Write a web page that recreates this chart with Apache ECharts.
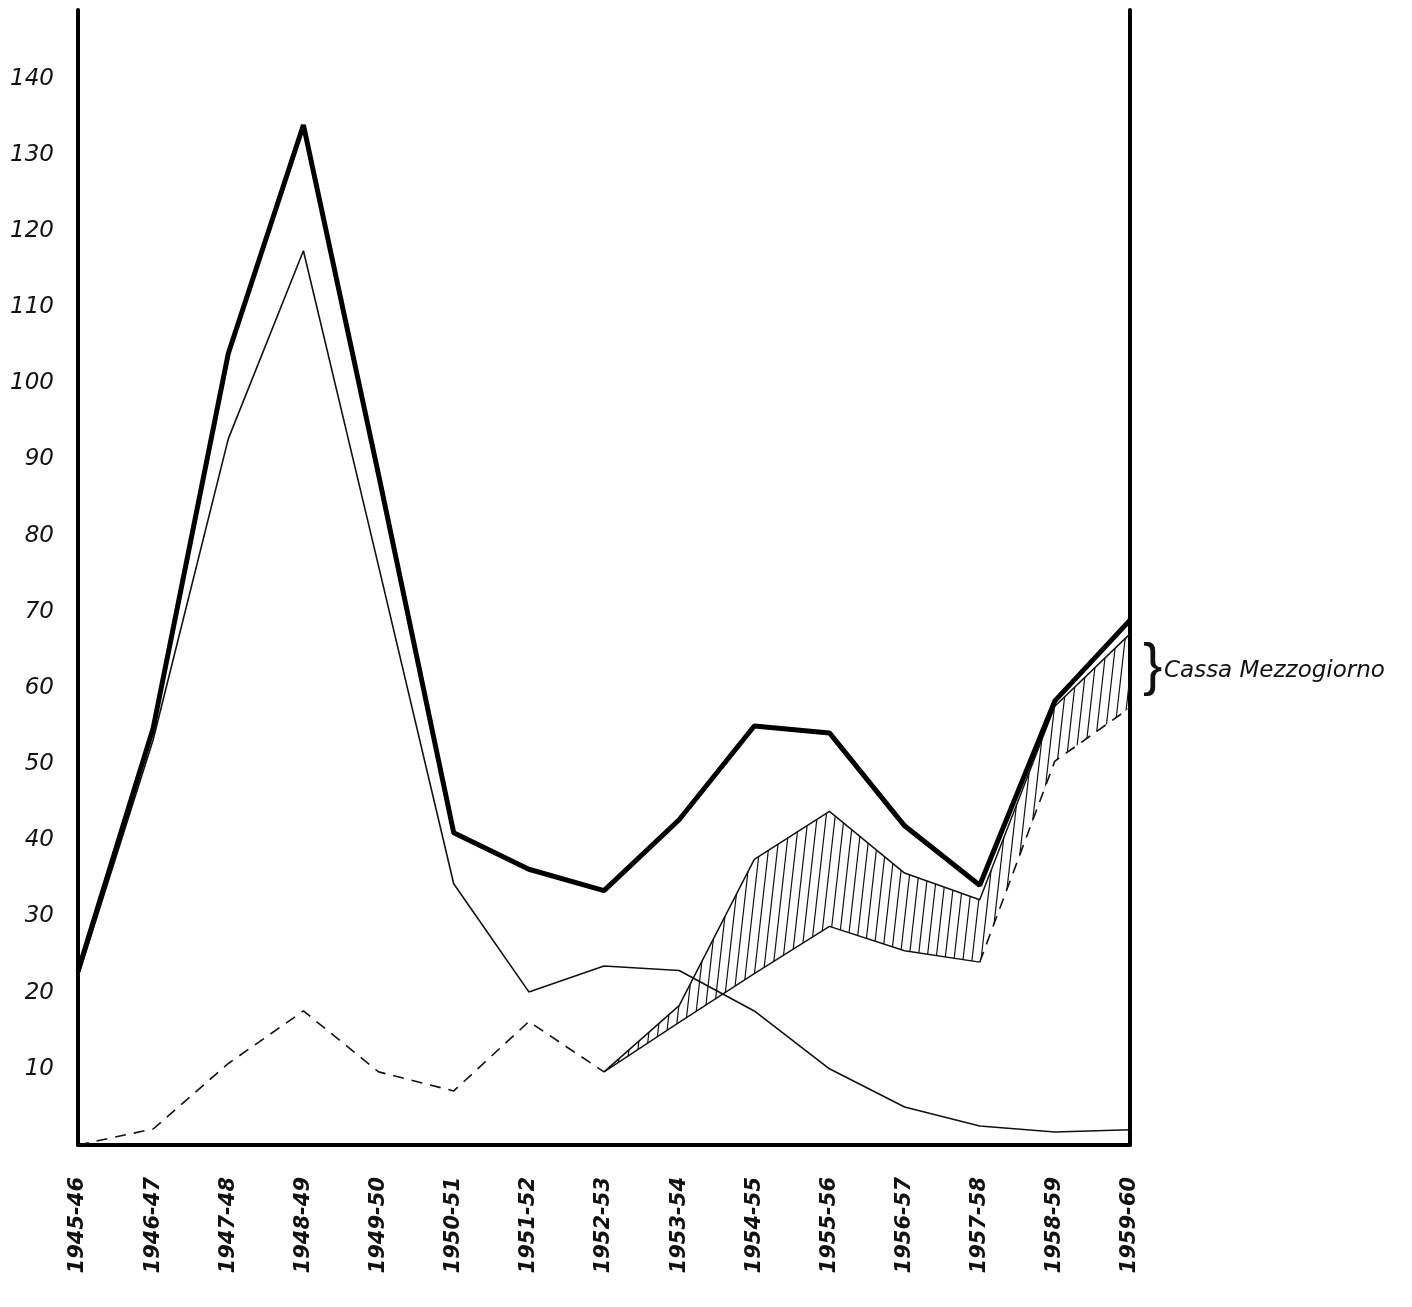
<!DOCTYPE html>
<html>
<head>
<meta charset="utf-8">
<script src="https://cdn.jsdelivr.net/npm/echarts@6/dist/echarts.min.js"></script>
<style>
html,body{margin:0;padding:0;background:#fff;}
#chart{width:1412px;height:1307px;}
</style>
</head>
<body>
<div id="chart"></div>
<script>
// ---- data ----
const categories = ['1945-46','1946-47','1947-48','1948-49','1949-50','1950-51','1951-52','1952-53','1953-54','1954-55','1955-56','1956-57','1957-58','1958-59','1959-60'];
const totalLine   = [22.8, 54.7, 103.9, 133.9, 88, 41, 36.2, 33.4, 42.7, 55, 54.1, 41.9, 34.1, 58.3, 68.9];
const thinLine    = [22.1, 53.2, 92.7, 117.4, 76, 34.3, 20.1, 23.5, 22.9, 17.6, 10, 5, 2.5, 1.7, 2];
const dashedLine  = [0, 2.1, 10.7, 17.6, 9.6, 7.1, 16.2, 9.6, 16.1, 22.5, 28.7, 25.5, 24, 50.4, 57.4];
const withCassa   = [null, null, null, null, null, null, null, 9.6, 18.3, 37.5, 43.8, 35.7, 32.2, 57.6, 67.1];
const yTickLabels = [10,20,30,40,50,60,70,80,90,100,110,120,130,140];
const annotation  = 'Cassa Mezzogiorno';

// hatch pattern (steep lines, tile wraps seamlessly)
const PW = 9, PH = 80;
const pc = document.createElement('canvas');
pc.width = PW; pc.height = PH;
const pctx = pc.getContext('2d');
pctx.strokeStyle = '#111';
pctx.lineWidth = 1.2;
[-PW, 0, PW].forEach(dx => {
  pctx.beginPath();
  pctx.moveTo(dx, PH);
  pctx.lineTo(dx + PW, 0);
  pctx.stroke();
});

const baseData = withCassa.map((v, i) => v == null ? '-' : dashedLine[i]);
const cassaData = withCassa.map((v, i) => v == null ? '-' : +(v - dashedLine[i]).toFixed(2));
// lower edge of hatch drawn solid between 1952-53 and 1957-58, dashed elsewhere
const solidFrom = 7, solidTo = 12;
const dashedPart = dashedLine.map((v, i) => (i <= solidFrom || i >= solidTo) ? v : '-');
const solidPart  = dashedLine.map((v, i) => (i >= solidFrom && i <= solidTo) ? v : '-');
const last = categories.length - 1;
const midCassa = (withCassa[last] + dashedLine[last]) / 2;

const chart = echarts.init(document.getElementById('chart'), null, {renderer: 'canvas'});
const font = 'DejaVu Sans';
chart.setOption({
  backgroundColor: '#fff',
  animation: false,
  grid: {left: 78, right: 282, top: 10, bottom: 162, containLabel: false},
  xAxis: {
    type: 'category',
    data: categories,
    boundaryGap: false,
    axisLine: {show: true, lineStyle: {color: '#000', width: 4}},
    axisTick: {show: false},
    splitLine: {show: false},
    axisLabel: {
      interval: 0, rotate: 90, margin: 32,
      fontFamily: font, fontStyle: 'italic', fontWeight: 'bold',
      fontSize: 21, color: '#111'
    }
  },
  yAxis: [{
    type: 'value', min: 0, max: 149, interval: 10,
    axisLine: {show: true, lineStyle: {color: '#000', width: 4}},
    axisTick: {show: false},
    splitLine: {show: false},
    axisLabel: {
      margin: 24, fontFamily: font, fontStyle: 'italic', fontSize: 23, color: '#111',
      formatter: v => yTickLabels.indexOf(v) >= 0 ? String(v) : ''
    }
  }, {
    type: 'value', min: 0, max: 149, interval: 10, position: 'right',
    axisLine: {show: true, lineStyle: {color: '#000', width: 4}},
    axisTick: {show: false}, axisLabel: {show: false}, splitLine: {show: false}
  }],
  series: [
    {
      name: 'base', type: 'line', stack: 'h', data: baseData,
      symbol: 'none', lineStyle: {opacity: 0}, silent: true, z: 1
    },
    {
      name: 'Cassa', type: 'line', stack: 'h', data: cassaData,
      symbol: 'none', lineStyle: {color: '#111', width: 1.5},
      areaStyle: {color: {image: pc, repetition: 'repeat'}, opacity: 1},
      z: 2,
      markPoint: {
        symbol: 'circle', symbolSize: 0,
        data: [
          {coord: [categories[last], midCassa],
           label: {show: true, position: 'right', distance: 13, formatter: '}',
                   fontFamily: 'Liberation Sans', fontSize: 58, color: '#111', offset: [0, -3]}},
          {coord: [categories[last], midCassa],
           label: {show: true, position: 'right', distance: 34, formatter: annotation,
                   fontFamily: font, fontStyle: 'italic', fontSize: 23, color: '#111'}}
        ]
      }
    },
    {
      name: 'dashed', type: 'line', data: dashedPart, symbol: 'none',
      lineStyle: {color: '#111', width: 1.6, type: [11, 8]}, z: 3
    },
    {
      name: 'lowerEdge', type: 'line', data: solidPart, symbol: 'none',
      lineStyle: {color: '#111', width: 1.4}, z: 3
    },
    {
      name: 'thin', type: 'line', data: thinLine, symbol: 'none',
      lineStyle: {color: '#111', width: 1.6}, z: 4
    },
    {
      name: 'total', type: 'line', data: totalLine, symbol: 'none',
      lineStyle: {color: '#000', width: 5}, z: 5
    }
  ]
});
</script>
</body>
</html>
